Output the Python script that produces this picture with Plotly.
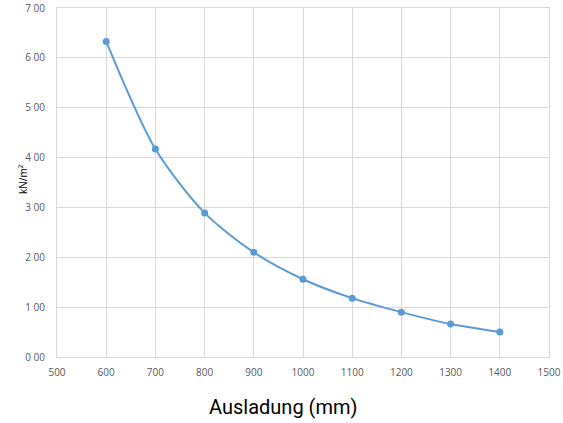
import plotly.graph_objects as go

# Ausladung (mm) vs. load (kN/m²)
ausladung = [600, 700, 800, 900, 1000, 1100, 1200, 1300, 1400]
last = [6.33, 4.17, 2.89, 2.10, 1.56, 1.18, 0.90, 0.66, 0.50]

x_ticks = list(range(500, 1600, 100))
y_ticks = [0, 1, 2, 3, 4, 5, 6, 7]
y_labels = ['0 00', '1 00', '2 00', '3 00', '4 00', '5 00', '6 00', '7 00']

fig = go.Figure(go.Scatter(
    x=ausladung, y=last,
    mode='lines+markers',
    line=dict(color='#5B9BD5', width=2, shape='spline', smoothing=0.8),
    marker=dict(color='#5B9BD5', size=7),
    showlegend=False,
))

grid = '#D9D9D9'
fig.update_layout(
    width=563, height=423,
    margin=dict(l=57, r=14, t=8, b=66),
    paper_bgcolor='white', plot_bgcolor='white',
    font=dict(family='Open Sans, sans-serif', color='#595959', size=10),
    xaxis=dict(range=[500, 1500], tickvals=x_ticks, showgrid=True, gridcolor=grid,
               gridwidth=1, showline=True, linecolor=grid, mirror=True,
               zeroline=False, ticks='', automargin=False, ticklabelstandoff=6,
               tickfont=dict(size=10, color='#595959')),
    yaxis=dict(range=[0, 7], tickvals=y_ticks, ticktext=y_labels, showgrid=True,
               gridcolor=grid, gridwidth=1, showline=True, linecolor=grid, mirror=True,
               zeroline=False, ticks='', automargin=False, ticklabelstandoff=9,
               tickfont=dict(size=10, color='#595959')),
)

# axis titles placed like in the original (x title sits left of centre, near the bottom)
fig.add_annotation(text='Ausladung (mm)', xref='paper', yref='paper', x=0.459, y=0,
                   yshift=-50, yanchor='middle', showarrow=False,
                   font=dict(size=20, color='#000000', family='Roboto, sans-serif'))
fig.add_annotation(text='kN/m²', xref='paper', yref='paper', x=0, y=0.51,
                   xshift=-43, textangle=-90, showarrow=False,
                   font=dict(size=10, color='#000000'))

# drop the browser's default page margin so the figure fills the window
fig.write_html("out.html", config={'displayModeBar': False},
               post_script="document.body.style.margin='0';")
